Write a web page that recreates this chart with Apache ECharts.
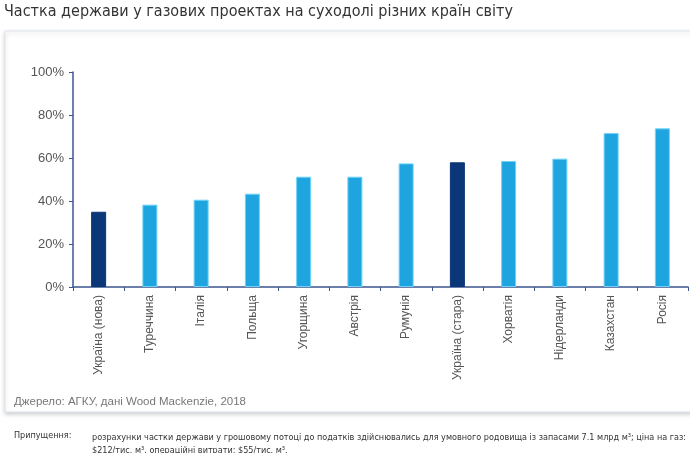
<!DOCTYPE html>
<html><head><meta charset="utf-8">
<script src="https://cdn.jsdelivr.net/npm/echarts@6/dist/echarts.min.js"></script>
<style>html,body{margin:0;padding:0;background:#fff}#c{width:690px;height:453px}</style>
</head><body><div id="c"></div>
<script>
const categories = ['Україна (нова)','Туреччина','Італія','Польща','Угорщина','Австрія','Румунія','Україна (стара)','Хорватія','Нідерланди','Казахстан','Росія'];
const values = [35.0, 38.3, 40.6, 43.4, 51.3, 51.3, 57.5, 58.0, 58.6, 59.7, 71.6, 73.8];
const highlighted = ['Україна (нова)','Україна (стара)'];
const yTicks = [0, 20, 40, 60, 80, 100];

const chart = echarts.init(document.getElementById('c'), null, {renderer:'canvas'});
const axisColor = '#3d5690';
chart.setOption({
  animation:false,
  backgroundColor:'#fff',
  graphic:[
    {type:'rect', z:-10, shape:{x:5,y:31,width:700,height:381}, style:{fill:'#fff', stroke:'#dfe5ec', lineWidth:1, shadowColor:'rgba(0,0,0,0.18)', shadowBlur:4, shadowOffsetY:2}},
    {type:'text', left:4, top:4, style:{text:'Частка держави у газових проектах на суходолі різних країн світу', font:'16px "DejaVu Sans Condensed", "Liberation Sans", sans-serif', fill:'#333'}},
    {type:'text', left:14, top:396, style:{text:'Джерело: АГКУ, дані Wood Mackenzie, 2018', font:'11.5px "Liberation Sans", sans-serif', fill:'#777'}},
    {type:'text', left:14, top:431, style:{text:'Припущення:', font:'9px "DejaVu Sans Condensed", sans-serif', fill:'#333'}},
    {type:'text', left:92, top:431, style:{text:'розрахунки частки держави у грошовому потоці до податків здійснювались для умовного родовища із запасами 7.1 млрд м³; ціна на газ:\n$212/тис. м³, операційні витрати: $55/тис. м³.', font:'9px "DejaVu Sans Condensed", sans-serif', fill:'#333', lineHeight:13}}
  ],
  grid:{left:73, right:2, top:72, bottom:166, containLabel:false},
  xAxis:{type:'category', data:categories,
    axisLine:{lineStyle:{color:axisColor, width:1.5}},
    axisTick:{show:true, length:4, lineStyle:{color:axisColor}},
    axisLabel:{rotate:90, color:'#555', fontSize:12, fontFamily:'Liberation Sans', margin:8}},
  yAxis:{type:'value', min:0, max:100, interval:20,
    axisLine:{show:true, lineStyle:{color:axisColor, width:1.5}},
    axisTick:{show:true, length:4, lineStyle:{color:axisColor}},
    splitLine:{show:false},
    axisLabel:{color:'#555', fontSize:13, fontFamily:'Liberation Sans', margin:9, formatter: v => yTicks.includes(v) ? v + '%' : ''}},
  series:[{type:'bar', barWidth:15,
    data: values.map((v,i)=>{
      const hi = highlighted.includes(categories[i]);
      return {value:v, itemStyle:{color: hi ? '#0b3677' : '#1ea5e0', borderColor: hi ? '#0b3677' : '#6fd3f7', borderWidth:1}};
    })}]
});
</script></body></html>
